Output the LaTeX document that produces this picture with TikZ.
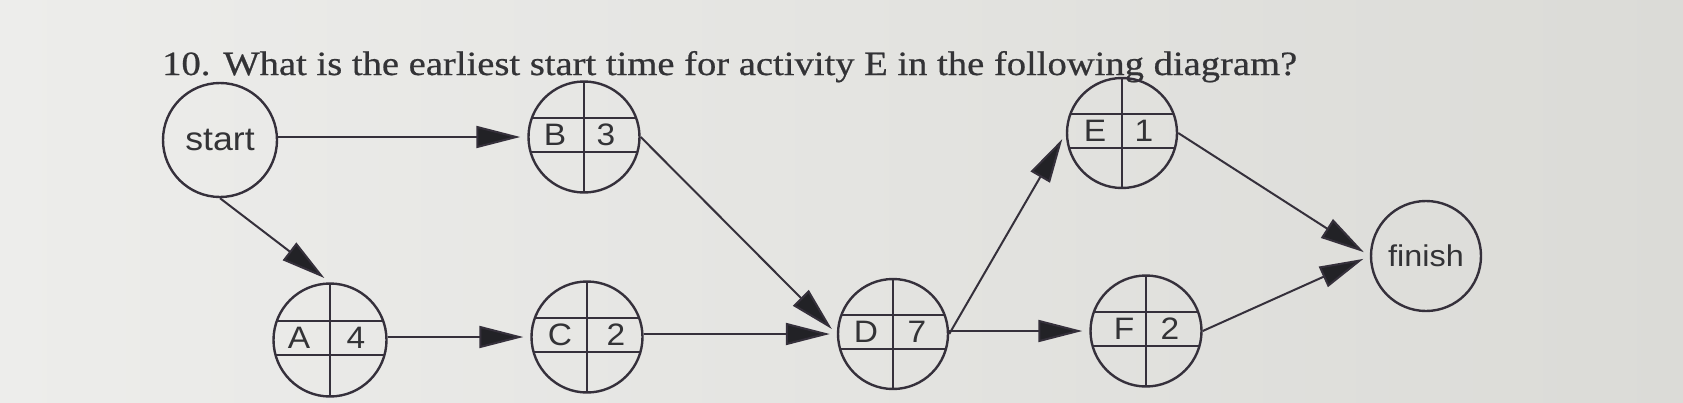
\documentclass[tikz,border=0pt]{standalone}
\usepackage{fontspec}
\setmainfont{Liberation Serif}
\setsansfont{Liberation Sans}[FakeStretch=1.08]
\newfontfamily\titlefont{Liberation Serif}[FakeStretch=1.135, FakeBold=0.6]
\usetikzlibrary{arrows.meta, positioning}
\definecolor{inkline}{HTML}{35303B}
\definecolor{inkhead}{HTML}{222226}
\definecolor{inktext}{HTML}{333336}
\definecolor{paperL}{HTML}{EDEDEB}
\definecolor{paperR}{HTML}{DBDBD7}
\tikzset{
    eventnode/.style={circle, draw=inkline, line width=2.4pt, minimum size=112pt, inner sep=0pt, text=inktext},
    activity/.style={circle, draw=inkline, line width=2.4pt, minimum size=111pt, inner sep=0pt,
        path picture={
            \draw[inkline, line width=2pt] (path picture bounding box.north) -- (path picture bounding box.south);
            \draw[inkline, line width=2pt] ([yshift=19pt]path picture bounding box.west) -- ([yshift=19pt]path picture bounding box.east);
            \draw[inkline, line width=2pt] ([yshift=-15pt]path picture bounding box.west) -- ([yshift=-15pt]path picture bounding box.east);
        }},
    actcell/.style={text=inktext, font=\sffamily\fontsize{31}{36}\selectfont, inner sep=0pt},
    arrow/.style={draw=inkline, line width=2pt, -{Triangle[length=44pt, width=22pt, fill=inkhead]}, shorten >=7pt}
}
\begin{document}
\begin{tikzpicture}[x=1pt, y=-1pt]
    \fill[left color=paperL, right color=paperR] (0,0) rectangle (1683,402);

    \node (title) [anchor=base west, text=inktext, inner sep=0pt, font=\titlefont\fontsize{34}{40}\selectfont] at (162,75) {10. What is the earliest start time for activity E in the following diagram?};

    \node (start) [eventnode, minimum size=114pt, font=\sffamily\fontsize{33}{38}\selectfont] at (220,140) {start};
    \node (finish) [eventnode, minimum size=110pt, font=\sffamily\fontsize{30}{35}\selectfont] at (1426,256) {finish};

    \node (B) [activity] at (584,137) {};
    \node (E) [activity, minimum size=110pt] at (1122,133) {};
    \node (A) [activity, minimum size=113pt] at (330,340) {};
    \node (C) [activity] at (587,337) {};
    \node (D) [activity, minimum size=110pt] at (893,334) {};
    \node (F) [activity] at (1146,331) {};

    % Labels
    \node (B_name) [actcell] at ([xshift=-29pt, yshift=2pt]B.center) {B};
    \node (B_dur) [actcell] at ([xshift=22pt, yshift=2pt]B.center) {3};
    \node (E_name) [actcell] at ([xshift=-27pt, yshift=2pt]E.center) {E};
    \node (E_dur) [actcell] at ([xshift=22pt, yshift=2pt]E.center) {1};
    \node (A_name) [actcell] at ([xshift=-31pt, yshift=2pt]A.center) {A};
    \node (A_dur) [actcell] at ([xshift=26pt, yshift=2pt]A.center) {4};
    \node (C_name) [actcell] at ([xshift=-27pt, yshift=2pt]C.center) {C};
    \node (C_dur) [actcell] at ([xshift=29pt, yshift=2pt]C.center) {2};
    \node (D_name) [actcell] at ([xshift=-27pt, yshift=2pt]D.center) {D};
    \node (D_dur) [actcell] at ([xshift=24pt, yshift=2pt]D.center) {7};
    \node (F_name) [actcell] at ([xshift=-22pt, yshift=2pt]F.center) {F};
    \node (F_dur) [actcell] at ([xshift=24pt, yshift=2pt]F.center) {2};

    \draw [arrow] (start.east |- B.west) -- (B.west);
    \draw [arrow] (start.south) -- (A.north);
    \draw [arrow] (A.east |- C.west) -- (C.west);
    \draw [arrow] (B.east) -- (D.west);
    \draw [arrow] (C.east |- D.west) -- (D.west);
    \draw [arrow] (D.east) -- (E.west);
    \draw [arrow] (D.east |- F.west) -- (F.west);
    \draw [arrow] (E.east) -- (finish.west);
    \draw [arrow] (F.east) -- (finish.west);
\end{tikzpicture}
\end{document}
